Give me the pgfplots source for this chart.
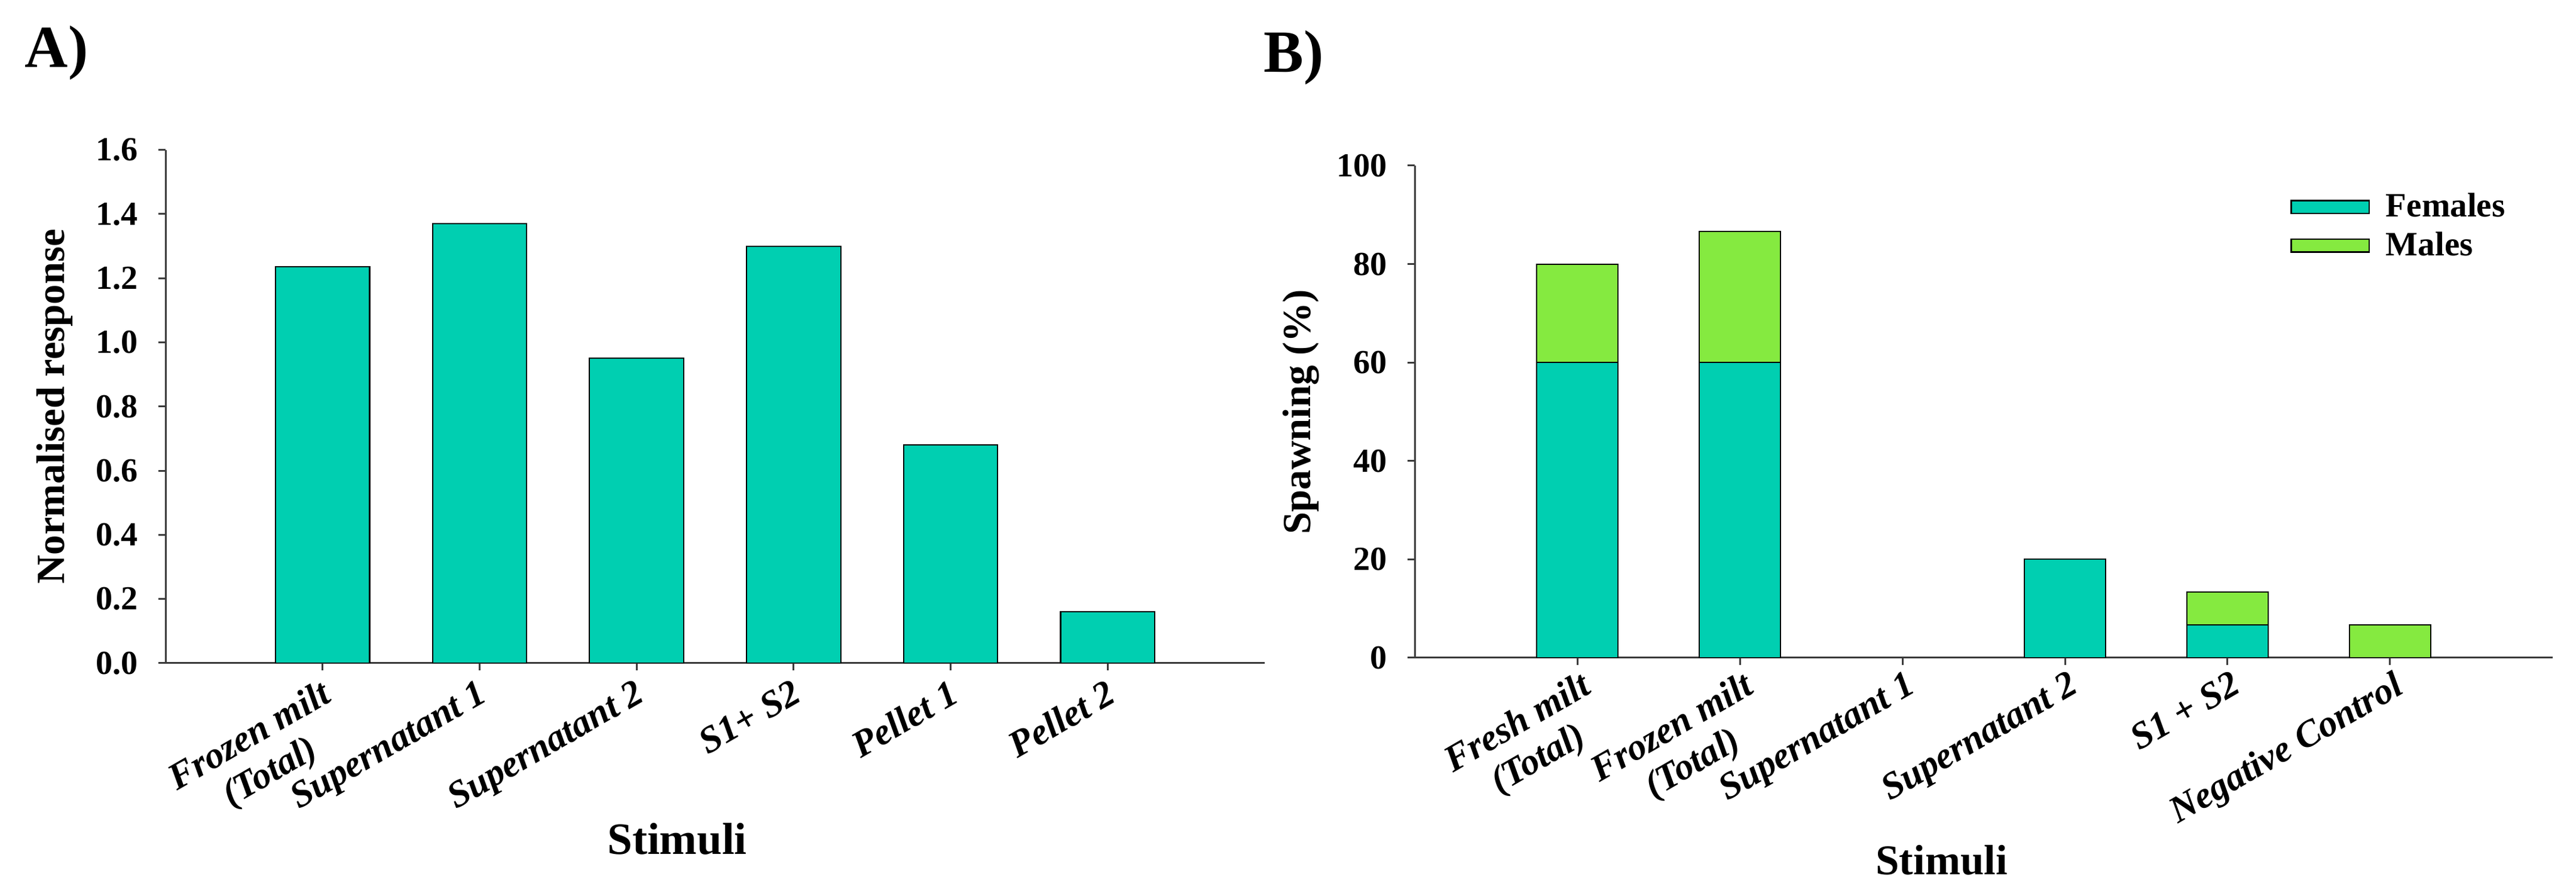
\documentclass[border=0pt]{standalone}
\usepackage{fontspec}
\setmainfont{Liberation Serif}
\usepackage{pgfplots}
\pgfplotsset{compat=1.18}
\definecolor{tealbar}{RGB}{0,207,177}
\definecolor{greenbar}{RGB}{133,234,64}
\definecolor{axgray}{RGB}{60,60,60}
\newcommand{\legfont}{\bfseries\fontsize{13.7}{16}\selectfont}
\pgfplotsset{
  myaxis/.style={
    scale only axis, anchor=south west,
    axis lines*=left,
    axis line style={axgray, line width=0.72pt},
    every tick/.style={axgray, line width=0.72pt},
    tick align=outside, major tick length=2.9pt,
    xmin=-1, xmax=6, xtick={0,1,2,3,4,5},
    enlargelimits=false,
    /pgf/number format/assume math mode=true,
    xticklabel style={rotate=30, anchor=north east, align=center, inner sep=0pt, yshift=-2pt,
      font=\bfseries\itshape\fontsize{15}{16.5}\selectfont},
    yticklabel style={anchor=east, inner sep=0pt, xshift=-8pt,
      font=\bfseries\fontsize{13.5}{16}\selectfont},
    ylabel style={font=\bfseries\fontsize{16}{19}\selectfont, anchor=center},
    xlabel style={font=\bfseries\fontsize{18}{21}\selectfont, anchor=base},
  }
}
\begin{document}
\begin{tikzpicture}
\path[use as bounding box] (0,0) rectangle (1034.4pt,357.6pt);
\node[anchor=base west, inner sep=0pt, font=\bfseries\fontsize{24}{28}\selectfont] at (9.84pt,330.48pt) {A)};
\node[anchor=base west, inner sep=0pt, font=\bfseries\fontsize{24}{28}\selectfont] at (507.36pt,328.56pt) {B)};

\begin{axis}[myaxis,
  at={(66.48pt,91.44pt)}, width=441.36pt, height=206pt,
  ymin=0, ymax=1.6, ytick={0,0.2,0.4,0.6,0.8,1.0,1.2,1.4,1.6},
  yticklabel style={/pgf/number format/.cd, fixed, fixed zerofill, precision=1},
  ybar, bar width=0.6,
  xticklabel style={xshift=-2.5pt},
  xticklabels={{Frozen milt\\(Total)},Supernatant 1,Supernatant 2,S1+ S2,Pellet 1,Pellet 2},
  ylabel={Normalised response}, xlabel={Stimuli},
  ylabel style={at={(axis description cs:-0.101,0.5)}},
  xlabel style={at={(axis description cs:0.4655,-0.3728)}},
]
\addplot[fill=tealbar, draw=black, line width=0.5pt, bar shift=0pt]
  coordinates {(0,1.235) (1,1.37) (2,0.95) (3,1.30) (4,0.68) (5,0.16)};
\end{axis}

\begin{axis}[myaxis,
  at={(568.08pt,93.6pt)}, width=456.96pt, height=197.52pt,
  ymin=0, ymax=100, ytick={0,20,40,60,80,100},
  ybar stacked, bar width=0.5,
  xticklabels={{Fresh milt\\(Total)},{Frozen milt\\(Total)},Supernatant 1,Supernatant 2,S1 + S2,Negative Control},
  ylabel={Spawning (\%)}, xlabel={Stimuli},
  ylabel style={at={(axis description cs:-0.0997,0.5)}},
  xlabel style={at={(axis description cs:0.463,-0.441)}, font=\bfseries\fontsize{17}{20}\selectfont},
  legend style={draw=none, fill=none, at={(axis description cs:0.769,0.955)}, anchor=north west,
    inner sep=0pt, row sep=0.5pt, font=\legfont},
  legend cell align=left,
]
\addplot[fill=tealbar, draw=black, line width=0.5pt,
  legend image code/.code={\draw[fill=tealbar,draw=black,line width=0.6pt] (0pt,-2.6pt) rectangle (31.4pt,2.6pt); \path (35.8pt,0pt);}]
  coordinates {(0,60) (1,60) (2,0) (3,20) (4,6.67) (5,0)};
\addplot[fill=greenbar, draw=black, line width=0.5pt,
  legend image code/.code={\draw[fill=greenbar,draw=black,line width=0.6pt] (0pt,-2.6pt) rectangle (31.4pt,2.6pt); \path (35.8pt,0pt);}]
  coordinates {(0,20) (1,26.67) (2,0) (3,0) (4,6.67) (5,6.67)};
\legend{{\legfont Females},{\legfont Males}}
\end{axis}
\end{tikzpicture}
\end{document}
